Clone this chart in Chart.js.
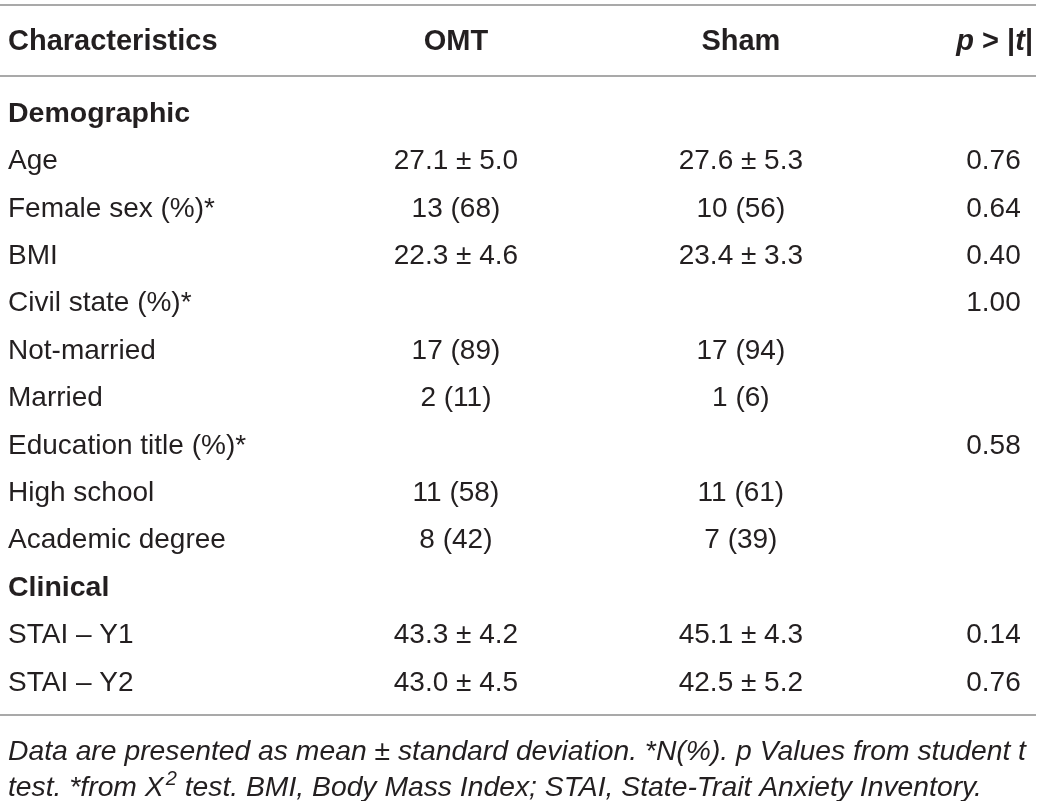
<!DOCTYPE html>
<html>
<head>
<meta charset="utf-8">
<script src="https://cdn.jsdelivr.net/npm/chart.js@4.4.1/dist/chart.umd.min.js"></script>
<style>
  html, body { margin: 0; padding: 0; background: #fff; }
  #wrap { width: 1040px; height: 801px; }
</style>
</head>
<body>
<div id="wrap"><canvas id="table_chart" width="1040" height="801"></canvas></div>
<script>
// table content
var rowLabels = ["Demographic", "Age", "Female sex (%)*", "BMI", "Civil state (%)*", "Not-married", "Married",
  "Education title (%)*", "High school", "Academic degree", "Clinical", "STAI \u2013 Y1", "STAI \u2013 Y2"];
var sectionRows = ["Demographic", "Clinical"];
var omtValues = ["", "27.1 \u00b1 5.0", "13 (68)", "22.3 \u00b1 4.6", "", "17 (89)", "2 (11)", "", "11 (58)", "8 (42)", "", "43.3 \u00b1 4.2", "43.0 \u00b1 4.5"];
var shamValues = ["", "27.6 \u00b1 5.3", "10 (56)", "23.4 \u00b1 3.3", "", "17 (94)", "1 (6)", "", "11 (61)", "7 (39)", "", "45.1 \u00b1 4.3", "42.5 \u00b1 5.2"];
var pValues = ["", "0.76", "0.64", "0.40", "1.00", "", "", "0.58", "", "", "", "0.14", "0.76"];
var columnTitles = ["Characteristics", "OMT", "Sham"];
var footnote1 = "Data are presented as mean \u00b1 standard deviation. *N(%). p Values from student t";
var footnote2 = ["test. *from X", "2", " test. BMI, Body Mass Index; STAI, State-Trait Anxiety Inventory."];

// layout (fractions of the chart width)
var colPos = [0, 0.437, 0.715, 0.988];
var colAlign = ["left", "center", "center", "right"];

var textColor = "#231f20";
var ruleColor = "#8c8c8c";
var family = "'Liberation Sans', Arial, Helvetica, sans-serif";

const columnData = (texts, col) => rowLabels.map((r, i) => ({ x: colPos[col], y: r, text: texts[i] }));

const drawPieces = (ctx, pieces, xRight, y) => {
  var total = 0;
  pieces.forEach(p => { ctx.font = p.font; total += ctx.measureText(p.t).width; });
  var x = xRight - total;
  ctx.textAlign = "left";
  pieces.forEach(p => {
    ctx.font = p.font;
    ctx.fillText(p.t, x, y);
    x += ctx.measureText(p.t).width;
  });
};

const tablePlugin = {
  id: "tableText",
  afterDatasetsDraw(chart) {
    var ctx = chart.ctx;
    var area = chart.chartArea;
    var xs = chart.scales.x;
    ctx.save();
    ctx.fillStyle = textColor;
    ctx.textBaseline = "middle";

    // cells
    chart.data.datasets.forEach((ds, di) => {
      var meta = chart.getDatasetMeta(di);
      meta.data.forEach((el, i) => {
        var txt = ds.data[i].text;
        if (!txt) return;
        var bold = di === 0 && sectionRows.indexOf(txt) >= 0;
        ctx.font = (bold ? "bold 28.5px " : "28px ") + family;
        ctx.textAlign = colAlign[di];
        ctx.fillText(txt, el.x, el.y + 2.5);
      });
    });

    // header
    var hy = area.top - 46;
    var b = "bold 29px " + family, bi = "italic bold 29px " + family;
    ctx.font = b;
    ctx.textAlign = "left";
    ctx.fillText(columnTitles[0], xs.getPixelForValue(colPos[0]), hy);
    ctx.textAlign = "center";
    ctx.fillText(columnTitles[1], xs.getPixelForValue(colPos[1]), hy);
    ctx.fillText(columnTitles[2], xs.getPixelForValue(colPos[2]), hy);
    drawPieces(ctx, [{ t: "p", font: bi }, { t: " > |", font: b }, { t: "t", font: bi }, { t: "|", font: b }], area.right, hy);

    // rules
    ctx.strokeStyle = ruleColor;
    ctx.lineWidth = 1.6;
    [area.top - 83, area.top - 12, area.bottom + 11].forEach(y => {
      ctx.beginPath();
      ctx.moveTo(0, y);
      ctx.lineTo(chart.width - 4, y);
      ctx.stroke();
    });

    // footnote
    var fi = "italic 28.3px " + family;
    ctx.font = fi;
    ctx.textAlign = "left";
    ctx.fillText(footnote1, area.left, area.bottom + 48);
    var fx = area.left, fy = area.bottom + 84;
    ctx.fillText(footnote2[0], fx, fy);
    fx += ctx.measureText(footnote2[0]).width + 2;
    ctx.font = "italic 20px " + family;
    ctx.fillText(footnote2[1], fx, fy - 9);
    fx += ctx.measureText(footnote2[1]).width;
    ctx.font = fi;
    ctx.fillText(footnote2[2], fx, fy);
    ctx.restore();
  }
};

var ctxTable = document.getElementById("table_chart").getContext("2d");
var tableChart = new Chart(ctxTable, {
  type: "scatter",
  data: {
    datasets: [
      { label: "Characteristics", data: columnData(rowLabels, 0) },
      { label: "OMT", data: columnData(omtValues, 1) },
      { label: "Sham", data: columnData(shamValues, 2) },
      { label: "p", data: columnData(pValues, 3) }
    ]
  },
  options: {
    responsive: false,
    animation: false,
    events: [],
    layout: { padding: { left: 8, right: 7, top: 88, bottom: 97 } },
    elements: { point: { radius: 0, hoverRadius: 0 } },
    scales: {
      x: { type: "linear", min: 0, max: 1, display: false },
      y: { type: "category", labels: rowLabels, offset: true, display: false }
    },
    plugins: { legend: { display: false }, tooltip: { enabled: false } }
  },
  plugins: [tablePlugin]
});
</script>
</body>
</html>
